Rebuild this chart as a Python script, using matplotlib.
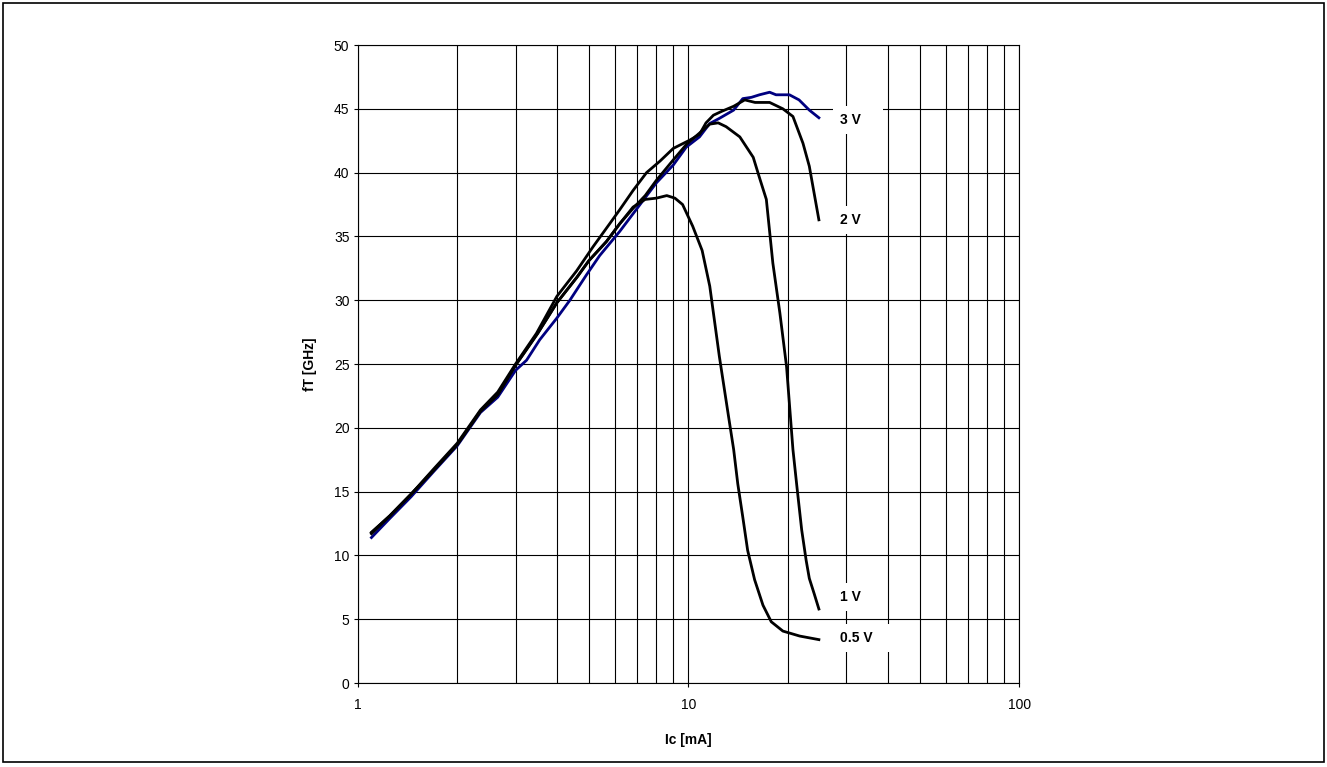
import matplotlib
matplotlib.use("Agg")
import matplotlib.pyplot as plt
from matplotlib.ticker import LogLocator, FixedLocator, FuncFormatter, NullFormatter
from matplotlib.patches import Rectangle

plt.rcParams['font.family'] = ['Liberation Sans', 'DejaVu Sans']

# Ic [mA] and fT [GHz], one pair of lists per Vce
ic_05 = [1.1, 1.25, 1.45, 1.7, 2.0, 2.35, 2.65, 3.0, 3.5, 4.0, 4.6, 5.0, 5.65, 6.2, 6.8,
         7.4, 8.0, 8.6, 9.1, 9.6, 10.3, 11.0, 11.6, 12.4, 13.2, 13.7, 14.1, 14.6, 15.1,
         15.85, 16.8, 17.8, 19.3, 21.7, 24.8]
ft_05 = [11.8, 13.1, 14.8, 16.7, 18.7, 21.3, 22.6, 24.9, 27.4, 29.8, 31.8, 33.1, 34.6, 36.0, 37.3,
         37.9, 38.0, 38.2, 38.0, 37.5, 35.8, 33.9, 31.1, 25.6, 21.0, 18.3, 15.6, 13.0, 10.4,
         8.1, 6.1, 4.8, 4.07, 3.68, 3.4]

ic_1 = [1.1, 1.25, 1.45, 1.7, 2.0, 2.35, 2.65, 3.0, 3.5, 4.0, 4.6, 5.0, 5.65, 6.2, 6.8,
        7.4, 8.0, 9.0, 9.85, 10.8, 11.6, 12.3, 13.0, 14.3, 15.7, 16.4, 17.2, 18.0, 18.9,
        19.8, 20.7, 21.3, 22.0, 22.7, 23.2, 24.0, 24.8]
ft_1 = [11.8, 13.1, 14.8, 16.7, 18.7, 21.3, 22.6, 24.9, 27.4, 29.8, 31.8, 33.1, 34.6, 36.0, 37.2,
        38.2, 39.4, 41.0, 42.2, 43.1, 43.8, 43.9, 43.6, 42.8, 41.2, 39.6, 37.9, 32.9, 29.0,
        24.8, 18.3, 15.3, 12.0, 9.6, 8.2, 7.0, 5.8]

ic_2 = [1.1, 1.25, 1.45, 1.7, 2.0, 2.35, 2.65, 3.0, 3.47, 4.0, 4.59, 5.15, 5.78, 6.2, 6.8,
        7.47, 8.2, 9.0, 10.1, 10.8, 11.3, 11.9, 12.6, 13.7, 14.8, 15.9, 17.6, 19.3, 20.7,
        22.2, 23.2, 24.8]
ft_2 = [11.7, 13.1, 14.8, 16.8, 18.8, 21.4, 22.8, 25.0, 27.4, 30.3, 32.3, 34.2, 36.0, 37.1, 38.6,
        40.0, 40.9, 41.9, 42.55, 43.0, 43.9, 44.5, 44.8, 45.2, 45.7, 45.5, 45.5, 45.0, 44.4,
        42.3, 40.5, 36.3]

ic_3 = [1.1, 1.25, 1.45, 1.7, 2.0, 2.35, 2.65, 3.0, 3.24, 3.55, 4.0, 4.38, 4.92, 5.39, 6.2,
        6.95, 8.0, 9.0, 9.85, 10.8, 11.6, 12.4, 13.7, 14.6, 15.5, 16.4, 17.6, 18.4, 19.2,
        20.2, 21.6, 23.2, 24.8]
ft_3 = [11.4, 12.9, 14.6, 16.6, 18.6, 21.2, 22.4, 24.5, 25.3, 26.9, 28.6, 30.0, 32.0, 33.5, 35.4,
        37.1, 39.2, 40.6, 42.0, 42.8, 43.85, 44.25, 44.9, 45.8, 45.9, 46.1, 46.3, 46.1, 46.1,
        46.1, 45.7, 44.9, 44.3]

curve_labels = ['3 V', '2 V', '1 V', '0.5 V']
label_y = [44.1, 36.3, 6.75, 3.5]

fig = plt.figure(figsize=(13.27, 7.67), dpi=100)
ax = fig.add_axes([0.2696, 0.1095, 0.4984, 0.8318])

ax.plot(ic_3, ft_3, color='#000080', lw=2.0)
ax.plot(ic_2, ft_2, color='black', lw=2.0)
ax.plot(ic_1, ft_1, color='black', lw=2.0)
ax.plot(ic_05, ft_05, color='black', lw=2.0)

ax.set_xscale('log')
ax.set_xlim(1, 100)
ax.set_ylim(0, 50)
ax.yaxis.set_major_locator(FixedLocator(range(0, 51, 5)))
ax.xaxis.set_major_locator(LogLocator(base=10))
ax.xaxis.set_minor_locator(LogLocator(base=10, subs=range(2, 10)))
ax.xaxis.set_major_formatter(FuncFormatter(lambda v, p: '%g' % v))
ax.xaxis.set_minor_formatter(NullFormatter())

ax.grid(True, which='both', color='black', lw=0.8)
ax.set_axisbelow(True)
for s in ax.spines.values():
    s.set_color('black')
    s.set_linewidth(0.8)

ax.tick_params(which='major', direction='out', length=3, width=0.8, labelsize=10, color='black')
ax.tick_params(axis='x', which='major', pad=8)
ax.tick_params(axis='y', which='major', pad=3)
ax.tick_params(which='minor', length=0)

ax.set_xlabel('Ic [mA]', fontsize=10, fontweight='bold')
ax.set_ylabel('fT [GHz]', fontsize=10, fontweight='bold')
ax.xaxis.set_label_coords(0.5, -0.078)
ax.yaxis.set_label_coords(-0.062, 0.5)

for lab, yv in zip(curve_labels, label_y):
    ax.text(28.7, yv, lab + '    ', fontsize=10, fontweight='bold', ha='left', va='center',
            bbox=dict(facecolor='white', edgecolor='none', pad=5))

fig.patches.append(Rectangle((0.0025, 0.006), 0.9955, 0.99, transform=fig.transFigure,
                             fill=False, edgecolor='black', lw=1.2))

fig.savefig('out.png', dpi=100)
